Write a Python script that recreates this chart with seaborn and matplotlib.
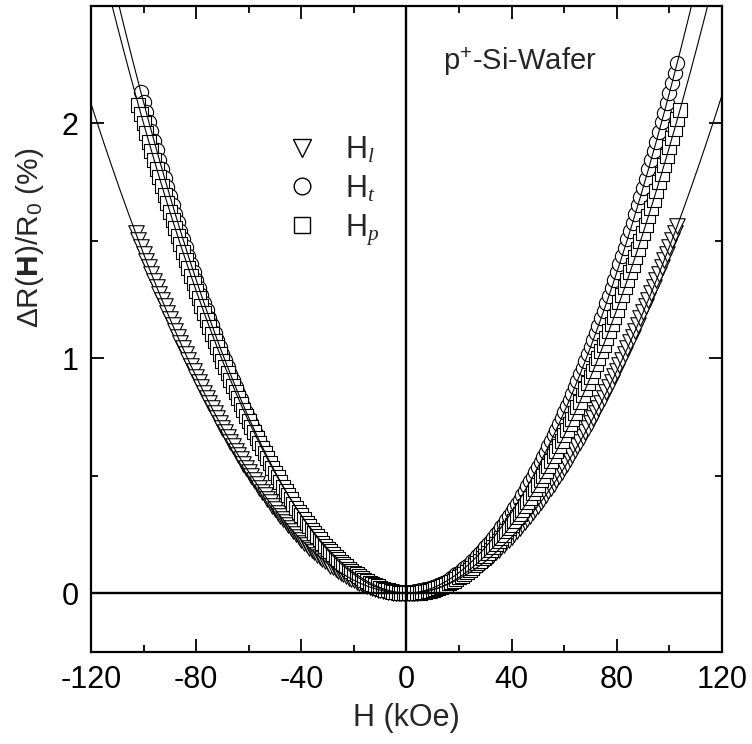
import numpy as np
import matplotlib
matplotlib.use("Agg")
import matplotlib.pyplot as plt
from matplotlib.lines import Line2D
from matplotlib.ticker import MultipleLocator, FuncFormatter
import seaborn as sns

# Field sweeps (kOe), 1 kOe steps
H_long = list(range(-103, 104))
H_trans = list(range(-101, 104))
H_perp = list(range(-102, 105))

# Magnetoresistance ΔR(H)/R0 (%), longitudinal field
mr_long = [
    1.533, 1.504, 1.474, 1.445, 1.416, 1.387, 1.359, 1.331, 1.303, 1.276,
    1.249, 1.222, 1.195, 1.169, 1.143, 1.117, 1.092, 1.067, 1.042, 1.018,
    0.993, 0.969, 0.946, 0.922, 0.899, 0.877, 0.854, 0.832, 0.810, 0.788,
    0.767, 0.746, 0.725, 0.705, 0.685, 0.665, 0.645, 0.626, 0.607, 0.588,
    0.570, 0.552, 0.534, 0.517, 0.499, 0.482, 0.466, 0.449, 0.433, 0.418,
    0.402, 0.387, 0.372, 0.358, 0.343, 0.329, 0.315, 0.302, 0.289, 0.276,
    0.264, 0.251, 0.239, 0.228, 0.216, 0.205, 0.194, 0.184, 0.174, 0.164,
    0.154, 0.145, 0.136, 0.127, 0.118, 0.110, 0.102, 0.095, 0.088, 0.080,
    0.074, 0.067, 0.061, 0.055, 0.050, 0.045, 0.040, 0.035, 0.031, 0.027,
    0.023, 0.019, 0.016, 0.013, 0.010, 0.008, 0.006, 0.004, 0.003, 0.002,
    0.001, 0.000, 0.000, 0.000, 0.000, 0.001, 0.002, 0.003, 0.004, 0.006,
    0.008, 0.011, 0.013, 0.016, 0.019, 0.023, 0.027, 0.031, 0.035, 0.040,
    0.045, 0.050, 0.056, 0.061, 0.068, 0.074, 0.081, 0.088, 0.095, 0.103,
    0.110, 0.119, 0.127, 0.136, 0.145, 0.154, 0.164, 0.174, 0.184, 0.195,
    0.205, 0.217, 0.228, 0.240, 0.252, 0.264, 0.276, 0.289, 0.302, 0.316,
    0.330, 0.344, 0.358, 0.373, 0.387, 0.403, 0.418, 0.434, 0.450, 0.466,
    0.483, 0.500, 0.517, 0.535, 0.552, 0.571, 0.589, 0.608, 0.627, 0.646,
    0.665, 0.685, 0.705, 0.726, 0.747, 0.768, 0.789, 0.811, 0.833, 0.855,
    0.877, 0.900, 0.923, 0.946, 0.970, 0.994, 1.018, 1.043, 1.068, 1.093,
    1.118, 1.144, 1.170, 1.196, 1.223, 1.250, 1.277, 1.304, 1.332, 1.360,
    1.388, 1.417, 1.446, 1.475, 1.505, 1.534, 1.564,
]

# transverse field
mr_trans = [
    2.132, 2.090, 2.048, 2.007, 1.966, 1.925, 1.885, 1.846, 1.806, 1.768,
    1.729, 1.691, 1.654, 1.616, 1.580, 1.543, 1.507, 1.472, 1.437, 1.402,
    1.368, 1.334, 1.301, 1.268, 1.236, 1.204, 1.172, 1.141, 1.110, 1.079,
    1.049, 1.020, 0.991, 0.962, 0.934, 0.906, 0.878, 0.851, 0.825, 0.799,
    0.773, 0.748, 0.723, 0.698, 0.674, 0.650, 0.627, 0.604, 0.582, 0.560,
    0.539, 0.518, 0.497, 0.477, 0.457, 0.437, 0.418, 0.400, 0.382, 0.364,
    0.346, 0.330, 0.313, 0.297, 0.281, 0.266, 0.251, 0.237, 0.223, 0.210,
    0.197, 0.184, 0.172, 0.160, 0.148, 0.137, 0.127, 0.117, 0.107, 0.098,
    0.089, 0.080, 0.072, 0.065, 0.058, 0.051, 0.044, 0.039, 0.033, 0.028,
    0.023, 0.019, 0.015, 0.012, 0.009, 0.006, 0.004, 0.003, 0.001, 0.000,
    0.000, 0.000, 0.000, 0.001, 0.003, 0.004, 0.006, 0.009, 0.012, 0.015,
    0.019, 0.023, 0.028, 0.033, 0.038, 0.044, 0.050, 0.057, 0.064, 0.072,
    0.080, 0.088, 0.097, 0.107, 0.116, 0.126, 0.137, 0.148, 0.159, 0.171,
    0.183, 0.196, 0.209, 0.222, 0.236, 0.251, 0.265, 0.281, 0.296, 0.312,
    0.329, 0.346, 0.363, 0.381, 0.399, 0.417, 0.436, 0.456, 0.476, 0.496,
    0.516, 0.538, 0.559, 0.581, 0.603, 0.626, 0.649, 0.673, 0.697, 0.721,
    0.746, 0.772, 0.797, 0.823, 0.850, 0.877, 0.904, 0.932, 0.961, 0.989,
    1.018, 1.048, 1.078, 1.108, 1.139, 1.170, 1.202, 1.234, 1.266, 1.299,
    1.333, 1.366, 1.401, 1.435, 1.470, 1.506, 1.541, 1.578, 1.614, 1.652,
    1.689, 1.727, 1.765, 1.804, 1.844, 1.883, 1.923, 1.964, 2.005, 2.046,
    2.088, 2.130, 2.173, 2.216, 2.259,
]

# perpendicular field
mr_perp = [
    2.080, 2.040, 2.000, 1.961, 1.922, 1.883, 1.845, 1.807, 1.770, 1.733,
    1.696, 1.660, 1.624, 1.589, 1.554, 1.519, 1.485, 1.451, 1.418, 1.385,
    1.352, 1.320, 1.288, 1.256, 1.225, 1.195, 1.164, 1.134, 1.105, 1.076,
    1.047, 1.018, 0.990, 0.963, 0.936, 0.909, 0.882, 0.856, 0.831, 0.805,
    0.781, 0.756, 0.732, 0.708, 0.685, 0.662, 0.640, 0.617, 0.596, 0.574,
    0.553, 0.533, 0.512, 0.493, 0.473, 0.454, 0.436, 0.417, 0.400, 0.382,
    0.365, 0.348, 0.332, 0.316, 0.301, 0.285, 0.271, 0.256, 0.242, 0.229,
    0.216, 0.203, 0.190, 0.178, 0.167, 0.156, 0.145, 0.134, 0.124, 0.115,
    0.105, 0.096, 0.088, 0.080, 0.072, 0.065, 0.058, 0.051, 0.045, 0.039,
    0.034, 0.029, 0.024, 0.020, 0.016, 0.013, 0.010, 0.007, 0.005, 0.003,
    0.002, 0.001, 0.000, 0.000, 0.000, 0.000, 0.001, 0.002, 0.004, 0.006,
    0.008, 0.011, 0.014, 0.018, 0.022, 0.026, 0.031, 0.036, 0.042, 0.048,
    0.054, 0.061, 0.068, 0.075, 0.083, 0.092, 0.100, 0.109, 0.119, 0.129,
    0.139, 0.149, 0.160, 0.172, 0.184, 0.196, 0.208, 0.221, 0.235, 0.248,
    0.263, 0.277, 0.292, 0.307, 0.323, 0.339, 0.356, 0.372, 0.390, 0.407,
    0.425, 0.444, 0.462, 0.482, 0.501, 0.521, 0.542, 0.562, 0.584, 0.605,
    0.627, 0.649, 0.672, 0.695, 0.719, 0.742, 0.767, 0.791, 0.816, 0.842,
    0.868, 0.894, 0.920, 0.947, 0.975, 1.003, 1.031, 1.059, 1.088, 1.118,
    1.147, 1.177, 1.208, 1.239, 1.270, 1.302, 1.334, 1.366, 1.399, 1.432,
    1.466, 1.500, 1.534, 1.569, 1.604, 1.640, 1.676, 1.712, 1.749, 1.786,
    1.824, 1.862, 1.900, 1.939, 1.978, 2.017, 2.057,
]

series_labels = [r"H$_{\mathit{l}}$", r"H$_{\mathit{t}}$", r"H$_{\mathit{p}}$"]
x_ticks = [-120, -80, -40, 0, 40, 80, 120]
y_ticks = [0, 1, 2]

sns.set_style("ticks")
plt.rcParams["font.family"] = ["Liberation Sans", "DejaVu Sans"]
plt.rcParams["mathtext.fontset"] = "custom"
plt.rcParams["mathtext.rm"] = "Liberation Sans"
plt.rcParams["mathtext.bf"] = "Liberation Sans:bold"
plt.rcParams["mathtext.it"] = "Liberation Serif:italic"
plt.rcParams["axes.unicode_minus"] = False

fig = plt.figure(figsize=(7.52, 7.44), dpi=100)
ax = fig.add_axes([91 / 752, 1 - 652 / 744, 631 / 752, 646 / 744])

markers = ["v", "o", "s"]
sizes = [125, 105, 92]
datasets = [(H_long, mr_long), (H_trans, mr_trans), (H_perp, mr_perp)]

for (H, mr), m, s in zip(datasets, markers, sizes):
    sns.scatterplot(x=H, y=mr, marker=m, s=s, color="white",
                    edgecolor="black", linewidth=0.8, ax=ax, zorder=3,
                    legend=False)

# quadratic fits of each sweep
H_fit = np.linspace(-125, 125, 501)
for H, mr in datasets:
    coef = np.polyfit(H, mr, 2)
    sns.lineplot(x=H_fit, y=np.polyval(coef, H_fit), color="black",
                 linewidth=0.8, ax=ax, zorder=4)

ax.axhline(0, color="black", linewidth=1.7, zorder=5)
ax.axvline(0, color="black", linewidth=1.7, zorder=5)

ax.set_xlim(-120, 120)
ax.set_ylim(-0.25, 2.5)
ax.set_xticks(x_ticks)
ax.set_yticks(y_ticks)
ax.xaxis.set_minor_locator(MultipleLocator(20))
ax.yaxis.set_minor_locator(MultipleLocator(0.5))
ax.xaxis.set_major_formatter(FuncFormatter(lambda v, p: f"{v:g}"))
ax.yaxis.set_major_formatter(FuncFormatter(lambda v, p: f"{v:g}"))
ax.tick_params(which="both", direction="in", top=True, right=True,
               width=1.3, colors="black")
ax.tick_params(which="major", length=9.5, labelsize=22)
ax.tick_params(axis="x", which="major", pad=9)
ax.tick_params(axis="y", which="major", pad=9)
ax.tick_params(which="minor", length=5)
for sp in ax.spines.values():
    sp.set_linewidth(1.6)
    sp.set_color("black")

ax.set_xlabel("H (kOe)", fontsize=22, labelpad=6)
ax.set_ylabel(r"ΔR($\mathbf{H}$)/R$_0$ (%)", fontsize=21.5)
ax.yaxis.set_label_coords(-0.0713, 0.641)

ax.text(0.558, 0.901, r"p$^{+}$-Si-Wafer", transform=ax.transAxes,
        fontsize=21, va="baseline", ha="left")

handles = [
    Line2D([], [], ls="none", marker="v", ms=13, mfc="white", mec="black", mew=1.0),
    Line2D([], [], ls="none", marker="o", ms=12, mfc="white", mec="black", mew=1.0),
    Line2D([], [], ls="none", marker="s", ms=11, mfc="white", mec="black", mew=1.0),
]
ax.legend(handles, series_labels, loc="upper left", bbox_to_anchor=(0.310, 0.80),
          frameon=False, fontsize=22, handlelength=1.0, handletextpad=0.9,
          labelspacing=0.26, borderpad=0, borderaxespad=0)

fig.savefig("out.png", dpi=100)
